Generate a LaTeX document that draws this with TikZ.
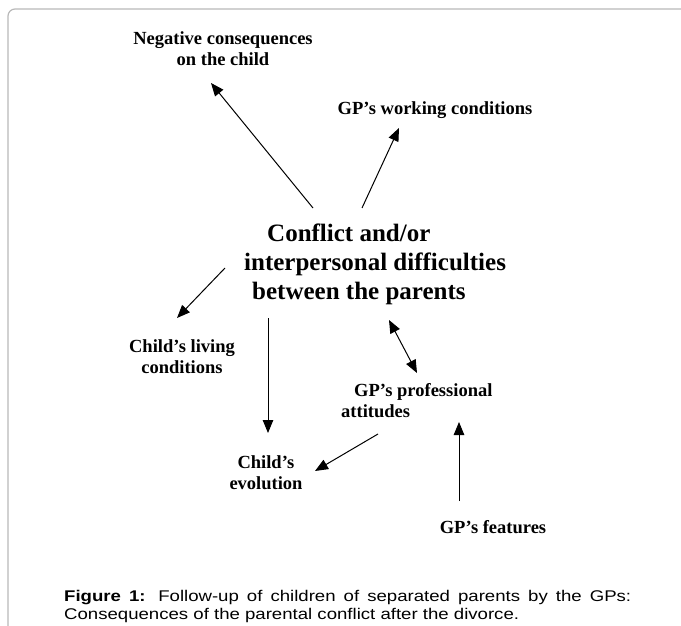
\documentclass[tikz,border=0pt]{standalone}
\usepackage{fontspec}
\setmainfont{Liberation Serif}
\newfontfamily\capfont[FakeStretch=1.2]{Liberation Sans}
\usetikzlibrary{arrows.meta, positioning}
\definecolor{FR_GRAY}{HTML}{B8B8B8}
\tikzset{
  lab/.style={
    align=center, inner sep=0pt,
    font=\bfseries\fontsize{18.5}{21}\selectfont},
  core/.style={
    align=left, inner sep=0pt,
    font=\bfseries\fontsize{25}{29}\selectfont},
  caption/.style={
    align=left, inner sep=0pt,
    font=\capfont\fontsize{15.5}{18}\selectfont},
  arr/.style={-{Triangle[length=13pt,width=10.5pt]}, line width=1pt},
  darr/.style={{Triangle[length=13pt,width=10.5pt]}-{Triangle[length=13pt,width=10.5pt]}, line width=1pt},
  frame/.style={draw=FR_GRAY, line width=1.2pt, rounded corners=7pt},
}

\begin{document}
\begin{tikzpicture}[x=1pt, y=-1pt]

  \useasboundingbox (0,0) rectangle (681,626);
  \draw[frame] (8,630) -- (8,9) -- (690,9);

  \node[core, anchor=west] (conf) at (244,264)
    {\hspace*{23pt}Conflict and/or\\interpersonal difficulties\\\hspace*{8pt}between the parents};

  \node[lab] (neg) at (223,49) {Negative consequences\\on the child};
  \node[lab] (work) at (435,110) {GP’s working conditions};
  \node[lab] (liv) at (182,357) {Child’s living\\conditions};
  \node[lab, align=left, anchor=west] (att) at (341,401)
    {\hspace*{13pt}GP’s professional\\attitudes};
  \node[lab] (evo) at (266,473) {Child’s\\evolution};
  \node[lab] (feat) at (493,527) {GP’s features};

  \node[caption, anchor=west] (cap) at (64,606)
    {\makebox[567pt][s]{\textbf{Figure 1:} Follow-up of children of separated parents by the GPs:}\\
     Consequences of the parental conflict after the divorce.};

  % arrow ends
  \coordinate (conf-neg)  at (313,208);
  \coordinate (neg-in)    at (211,83);
  \coordinate (conf-work) at (362,208);
  \coordinate (work-in)   at (399,128);
  \coordinate (conf-liv)  at (225,268);
  \coordinate (liv-in)    at (177,318);
  \coordinate (conf-evo)  at (268,318);
  \coordinate (evo-in)    at (268,433);
  \coordinate (conf-att)  at (389,320);
  \coordinate (att-conf)  at (417,373);
  \coordinate (att-evo)   at (378,434);
  \coordinate (evo-att)   at (315,471);
  \coordinate (feat-out)  at (459,501);
  \coordinate (att-in)    at (459,422);

  \draw[arr]  (conf-neg)  -- (neg-in);
  \draw[arr]  (conf-work) -- (work-in);
  \draw[arr]  (conf-liv)  -- (liv-in);
  \draw[arr]  (conf-evo)  -- (evo-in);
  \draw[darr] (conf-att)  -- (att-conf);
  \draw[arr]  (att-evo)   -- (evo-att);
  \draw[arr]  (feat-out)  -- (att-in);

\end{tikzpicture}
\end{document}
